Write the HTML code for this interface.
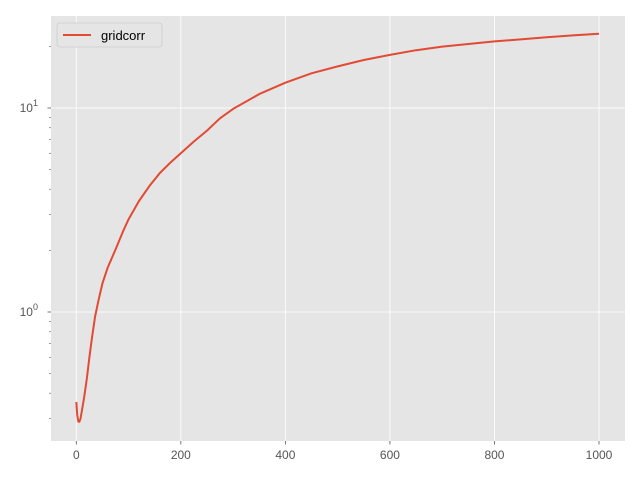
<!DOCTYPE html>
<html><head><meta charset="utf-8"><style>
body{margin:0;background:#fff;}
svg{display:block;font-family:"Liberation Sans","DejaVu Sans",sans-serif;}
</style></head><body>
<svg id="chart" width="640" height="480" xmlns="http://www.w3.org/2000/svg">
<rect x="51" y="16" width="574" height="425" fill="#e5e5e5"/>
<g id="grid"></g>
<g id="ticks"></g>
<path id="line" fill="none" stroke="#e24a33" stroke-width="2" stroke-linejoin="round"/>
<g>
<rect x="57" y="23" width="105" height="24" rx="3" fill="#e5e5e5" stroke="#cccccc" stroke-width="0.8"/>
<line x1="63" y1="35" x2="91" y2="35" stroke="#e24a33" stroke-width="2"/>
<text x="101" y="40" font-size="13" fill="#000">gridcorr</text>
</g>
</svg>
<script>
const xs = [0,2,4,6,8,10,15,20,25,30,36,42,50,60,76,90,100,120,140,160,180,200,225,250,275,300,350,400,450,500,550,600,650,700,750,800,850,900,950,1000];
const ys = [0.362,0.31,0.29,0.29,0.30,0.32,0.38,0.47,0.6,0.75,0.95,1.13,1.38,1.65,2.05,2.5,2.85,3.5,4.15,4.8,5.4,6.0,6.85,7.75,8.9,9.9,11.7,13.3,14.8,16.0,17.2,18.2,19.2,20.0,20.6,21.2,21.7,22.2,22.7,23.1];
const xTicks = [0,200,400,600,800,1000];
const yMajor = [1,10];
const NS="http://www.w3.org/2000/svg";
const X = v => 76.3 + v*(599-76.3)/1000;
const Y = v => 312 - Math.log10(v)*204;
const grid=document.getElementById('grid'), ticks=document.getElementById('ticks');
function mk(tag,attrs,parent){const e=document.createElementNS(NS,tag);for(const k in attrs)e.setAttribute(k,attrs[k]);parent.appendChild(e);return e;}
xTicks.forEach(t=>{
  const l=mk('line',{x1:X(t),x2:X(t),y1:16,y2:441,stroke:'#fff','stroke-width':0.8},grid);
  
  
  mk('line',{x1:X(t),x2:X(t),y1:441,y2:444.5,stroke:'#555','stroke-width':0.8},ticks);
  const tx=mk('text',{x:X(t),y:459,'font-size':12,fill:'#555','text-anchor':'middle'},ticks);
  tx.textContent=t;
  
  
});
yMajor.forEach(t=>{
  const l=mk('line',{x1:51,x2:625,y1:Y(t),y2:Y(t),stroke:'#fff','stroke-width':0.8},grid);
  
  
  mk('line',{x1:47.5,x2:51,y1:Y(t),y2:Y(t),stroke:'#555','stroke-width':0.8},ticks);
  const tx=mk('text',{x:38,y:Y(t)+4,'font-size':12,fill:'#555','text-anchor':'end'},ticks);
  tx.innerHTML='10<tspan dy="-6" font-size="9">'+Math.round(Math.log10(t))+'</tspan>';
  
  
});
[0.1,1,10].forEach(d=>{for(let m=2;m<=9;m++){const v=d*m;const y=Y(v);if(y>16&&y<441)mk('line',{x1:49,x2:51,y1:y,y2:y,stroke:'#555','stroke-width':0.6},ticks);}});
document.getElementById('line').setAttribute('d',xs.map((x,i)=>(i?'L':'M')+X(x).toFixed(1)+','+Y(ys[i]).toFixed(1)).join(''));
</script>
</body></html>
